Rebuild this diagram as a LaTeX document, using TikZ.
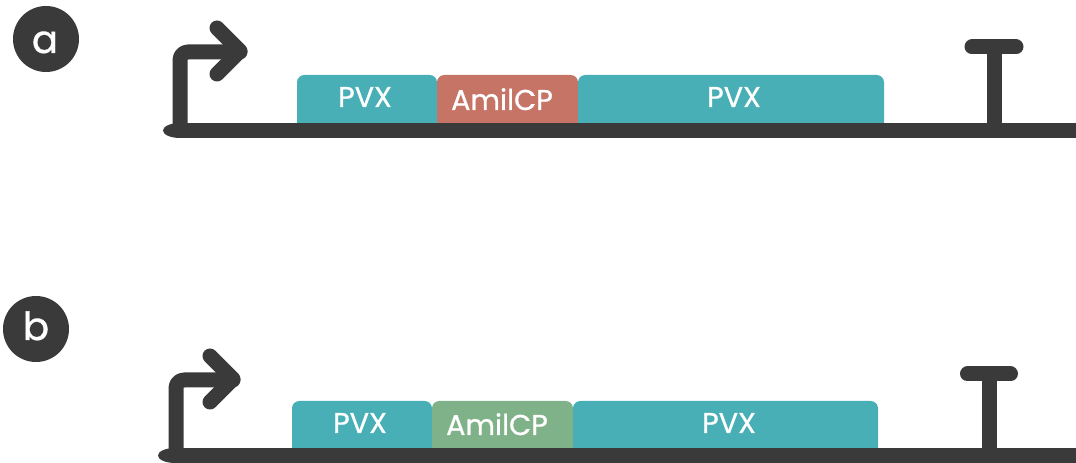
\documentclass[tikz,border=0pt]{standalone}
\usepackage{fontspec}
\setmainfont{Poppins}
\newfontfamily\heavyfont[FakeBold=0.8]{Poppins}
\definecolor{darkline}{HTML}{3A3A3A}
\definecolor{pvxteal}{HTML}{47AFB5}
\definecolor{amilred}{HTML}{C67465}
\definecolor{amilgreen}{HTML}{80B28A}
\tikzset{
  dna/.style={darkline, line width=11.25pt},
  partline/.style={darkline, line width=11.25pt, line cap=round, line join=round},
  genebox/.style={rounded corners=5.5pt},
  genetext/.style={text=white, font=\heavyfont\fontsize{21.5}{24}\selectfont, anchor=base, inner sep=0pt},
  badge/.style={fill=darkline},
  badgetext/.style={text=white, font=\heavyfont\fontsize{29}{32}\selectfont, anchor=base, inner sep=0pt},
}
\begin{document}
\begin{tikzpicture}[x=0.75pt, y=-0.75pt]
\useasboundingbox (0,0) rectangle (1076,463);

% ---------- panel a ----------
\fill[badge] (46,39) circle (33);
\node[badgetext] (labela) at (45,53) {a};

\fill[pvxteal, genebox] (297,131) rectangle (437,75);
\fill[amilred, genebox] (437,131) rectangle (578,75);
\fill[pvxteal, genebox] (578,131) rectangle (884,75);
\node[genetext] (pvx1a) at (365,107) {PVX};
\node[genetext] (amila) at (502,110) {AmilCP};
\node[genetext] (pvx2a) at (734,107) {PVX};

\coordinate (lefta) at (180,130.5);
\coordinate (righta) at (1076,130.5);
\fill[darkline] (lefta) ellipse [x radius=17, y radius=7.5];
\draw[dna] (lefta) -- (righta);

\draw[partline, rounded corners=6pt] (180,130) -- (180,52) -- (240,52);
\draw[partline] (217,28) -- (240,51) -- (217,74);

\draw[partline, line cap=butt] (994,130) -- (994,47);
\draw[partline] (972,47) -- (1016,47);

% ---------- panel b ----------
\fill[badge] (36,329) circle (33);
\node[badgetext] (labelb) at (36,340) {b};

\fill[pvxteal, genebox] (292,456) rectangle (432,401);
\fill[amilgreen, genebox] (432,456) rectangle (573,401);
\fill[pvxteal, genebox] (573,456) rectangle (878,401);
\node[genetext] (pvx1b) at (360,433) {PVX};
\node[genetext] (amilb) at (497,435) {AmilCP};
\node[genetext] (pvx2b) at (729,433) {PVX};

\coordinate (leftb) at (175,455.5);
\coordinate (rightb) at (1076,455.5);
\fill[darkline] (leftb) ellipse [x radius=17, y radius=7.5];
\draw[dna] (leftb) -- (rightb);

\draw[partline, rounded corners=6pt] (176,455) -- (176,380) -- (233,380);
\draw[partline] (210,356) -- (233,379) -- (210,402);

\draw[partline, line cap=butt] (989.5,455) -- (989.5,374);
\draw[partline] (967.5,374) -- (1010.5,374);
\end{tikzpicture}
\end{document}
